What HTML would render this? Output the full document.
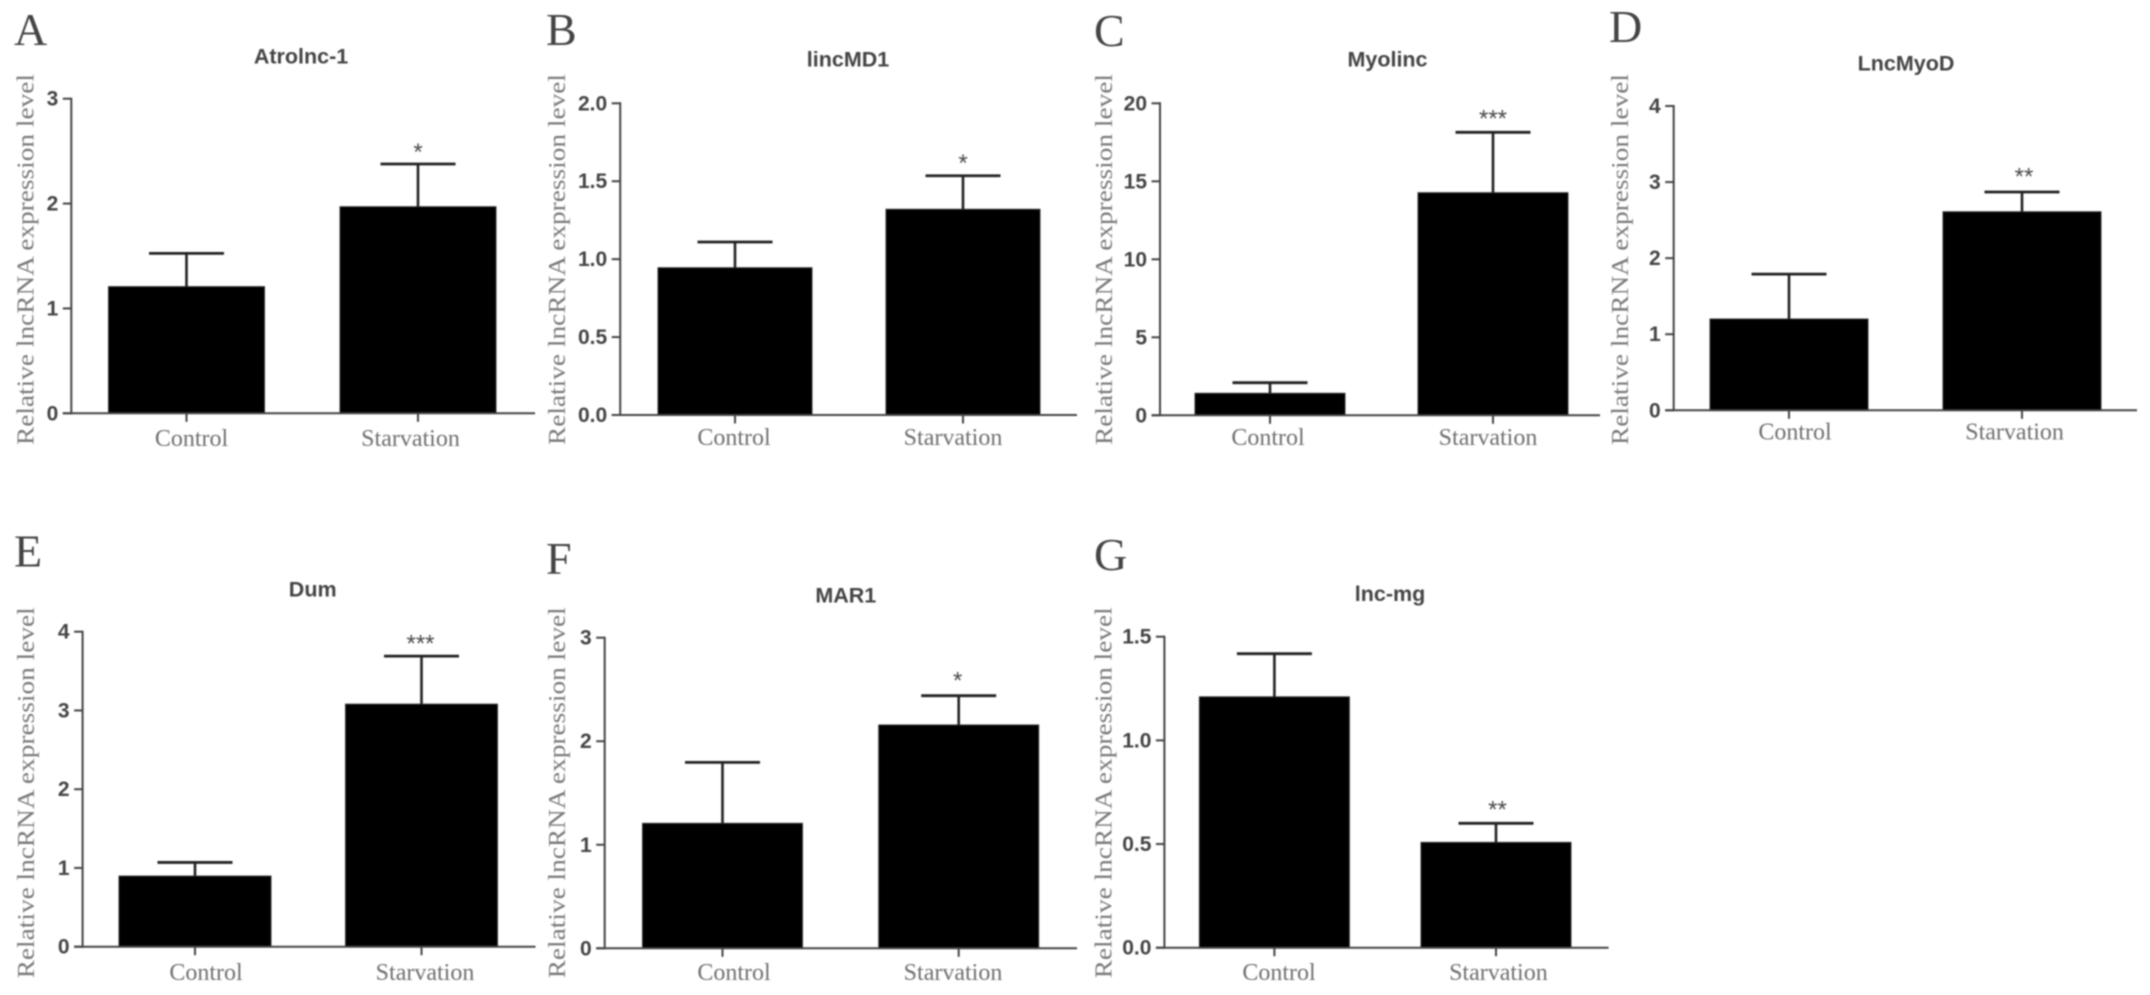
<!DOCTYPE html>
<html lang="en">
<head>
<meta charset="utf-8">
<title>lncRNA expression panels</title>
<style>
html,body{margin:0;padding:0;background:#fff;width:2150px;height:995px;overflow:hidden}
svg{display:block;filter:blur(0.8px)}
.serif{font-family:"Liberation Serif",serif}
.sans{font-family:"Liberation Sans",sans-serif}
</style>
</head>
<body>
<svg id="figure" xmlns="http://www.w3.org/2000/svg" width="2150" height="995" viewBox="0 0 2150 995">
<rect x="0" y="0" width="2150" height="995" fill="#fff"/>
</svg>
<script>
const categories = ['Control', 'Starvation'];
const panelLetters = ['A', 'B', 'C', 'D', 'E', 'F', 'G'];
const panelTitles = ['Atrolnc-1', 'lincMD1', 'Myolinc', 'LncMyoD', 'Dum', 'MAR1', 'lnc-mg'];
const yAxisTitle = 'Relative lncRNA expression level';
const tickLabelsA = ['0', '1', '2', '3'];
const tickLabelsB = ['0.0', '0.5', '1.0', '1.5', '2.0'];
const tickLabelsC = ['0', '5', '10', '15', '20'];
const tickLabelsD = ['0', '1', '2', '3', '4'];
const tickLabelsE = ['0', '1', '2', '3', '4'];
const tickLabelsF = ['0', '1', '2', '3'];
const tickLabelsG = ['0.0', '0.5', '1.0', '1.5'];
const controlMeans = [1.208, 0.945, 1.41, 1.2, 0.897, 1.207, 1.21];
const starvationMeans = [1.97, 1.32, 14.27, 2.61, 3.08, 2.157, 0.508];
const controlErrors = [0.317, 0.165, 0.68, 0.59, 0.173, 0.589, 0.208];
const starvationErrors = [0.407, 0.215, 3.87, 0.26, 0.61, 0.283, 0.092];
const significance = ['*', '*', '***', '**', '***', '*', '**'];

const tickSets = [tickLabelsA, tickLabelsB, tickLabelsC, tickLabelsD, tickLabelsE, tickLabelsF, tickLabelsG];

/* Panel frame geometry (layout only, no data) */
const frames = [
  {ax:71.3,  top:98.7,  base:413.3, end:535,  c0:186.5, step:231.5, bw:156, lx:14,   ly:45,  tx:301,  ty:63.3, cy:446, ytx:33.5, ytBottom:445, dx:[5,-7.5], sdx:0, sdy:-4},
  {ax:620.2, top:103.3, base:415,   end:1077, c0:735,   step:228,   bw:154, lx:546,  ly:45,  tx:848,  ty:66.7, cy:445, ytx:565,  ytBottom:445, dx:[-1,-10], sdx:0, sdy:-4.7},
  {ax:1160,  top:103.3, base:415.3, end:1600, c0:1270,  step:223,   bw:150, lx:1094, ly:46,  tx:1387.5,ty:66.7,cy:445, ytx:1112, ytBottom:445, dx:[-2,-5], sdx:0, sdy:-5.6},
  {ax:1673.7,top:106,   base:410.3, end:2137, c0:1789,  step:233,   bw:158, lx:1609, ly:42,  tx:1906, ty:70.7, cy:439.3,ytx:1628,ytBottom:445, dx:[6,-7.4], sdx:2, sdy:-7.5},
  {ax:82.6,  top:631.7, base:946.7, end:535.5,c0:195,   step:226.5, bw:152, lx:14,   ly:566.5,tx:312.7,ty:596.7,cy:980, ytx:34,   ytBottom:978.3,dx:[11,3.5], sdx:-1, sdy:-4.5},
  {ax:604.7, top:637.7, base:948.3, end:1077, c0:722.5, step:236.2, bw:160, lx:546,  ly:574, tx:845.8,ty:602.3,cy:980, ytx:565,  ytBottom:978.3,dx:[11.5,-5.7], sdx:-1, sdy:-7},
  {ax:1164.4,top:636.7, base:947.7, end:1608.6,c0:1274.4,step:221.6,bw:150, lx:1094, ly:570,  tx:1390, ty:601,  cy:980, ytx:1111.7,ytBottom:978.3,dx:[4.6,2.4], sdx:1.5, sdy:-6}
];

const NS = 'http://www.w3.org/2000/svg';
const figure = document.getElementById('figure');

function make(tag, parent, attrs, text) {
  const el = document.createElementNS(NS, tag);
  for (const k in attrs) el.setAttribute(k, attrs[k]);
  if (text !== undefined) el.textContent = text;
  parent.appendChild(el);
  return el;
}

function yScale(frame, ticks) {
  const max = parseFloat(ticks[ticks.length - 1]);
  return function (v) { return frame.base - (v / max) * (frame.base - frame.top); };
}

function xScale(frame) {
  return function (i) { return frame.c0 + i * frame.step; };
}

panelTitles.forEach(function (title, p) {
  const f = frames[p];
  const ticks = tickSets[p];
  const y = yScale(f, ticks);
  const x = xScale(f);
  const means = [controlMeans[p], starvationMeans[p]];
  const errors = [controlErrors[p], starvationErrors[p]];

  const g = make('g', figure, {});
  
  

  const letter = make('text', g, {x: f.lx, y: f.ly, 'class': 'serif', 'font-size': 46, fill: '#444'}, panelLetters[p]);
  
  

  const head = make('text', g, {x: f.tx, y: f.ty, 'class': 'sans', 'font-size': 21.5, 'font-weight': 'bold', 'text-anchor': 'middle', fill: '#444'}, title);
  
  

  const yTitle = make('text', g, {
    transform: 'translate(' + f.ytx + ',' + f.ytBottom + ') rotate(-90)',
    x: 0, y: 0, 'class': 'serif', 'font-size': 24.5, fill: '#7a7a7a',
    textLength: 371, lengthAdjust: 'spacingAndGlyphs'
  }, yAxisTitle);
  
  

  categories.forEach(function (cat, i) {
    const bar = make('rect', g, {
      x: x(i) - f.bw / 2, y: y(means[i]), width: f.bw, height: f.base - y(means[i]),
      fill: '#000', stroke: '#333', 'stroke-width': 1
    });
    
    

    const errTop = y(means[i] + errors[i]);
    const stem = make('line', g, {x1: x(i), x2: x(i), y1: y(means[i]), y2: errTop, stroke: '#222', 'stroke-width': 2.6});
    
    

    const cap = make('line', g, {x1: x(i) - 37.5, x2: x(i) + 37.5, y1: errTop, y2: errTop, stroke: '#222', 'stroke-width': 2.8});
    
    

    const xTick = make('line', g, {x1: x(i), x2: x(i), y1: f.base, y2: f.base + 8.5, stroke: '#444', 'stroke-width': 2});
    
    

    const xLabel = make('text', g, {x: x(i) + f.dx[i], y: f.cy, 'class': 'serif', 'font-size': 24, 'text-anchor': 'middle', fill: '#707070'}, cat);
    
    
  });

  const yAxis = make('line', g, {x1: f.ax, x2: f.ax, y1: f.top - 1, y2: f.base + 1, stroke: '#444', 'stroke-width': 2});
  
  

  const xAxis = make('line', g, {x1: f.ax - 8.5, x2: f.end, y1: f.base, y2: f.base, stroke: '#444', 'stroke-width': 2});
  
  

  ticks.forEach(function (label) {
    const ty = y(parseFloat(label));
    const tick = make('line', g, {x1: f.ax - 8.5, x2: f.ax, y1: ty, y2: ty, stroke: '#444', 'stroke-width': 2});
    
    

    const tl = make('text', g, {x: f.ax - 13, y: ty + 7, 'class': 'sans', 'font-size': 21, 'font-weight': 'bold', 'text-anchor': 'end', fill: '#444'}, label);
    
    
  });

  const sigTop = y(starvationMeans[p] + starvationErrors[p]);
  const sig = make('text', g, {x: x(1) + f.sdx, y: sigTop + f.sdy, 'class': 'sans', 'font-size': 24, 'text-anchor': 'middle', fill: '#4a4a4a'}, significance[p]);
  
  
});
</script>
</body>
</html>
